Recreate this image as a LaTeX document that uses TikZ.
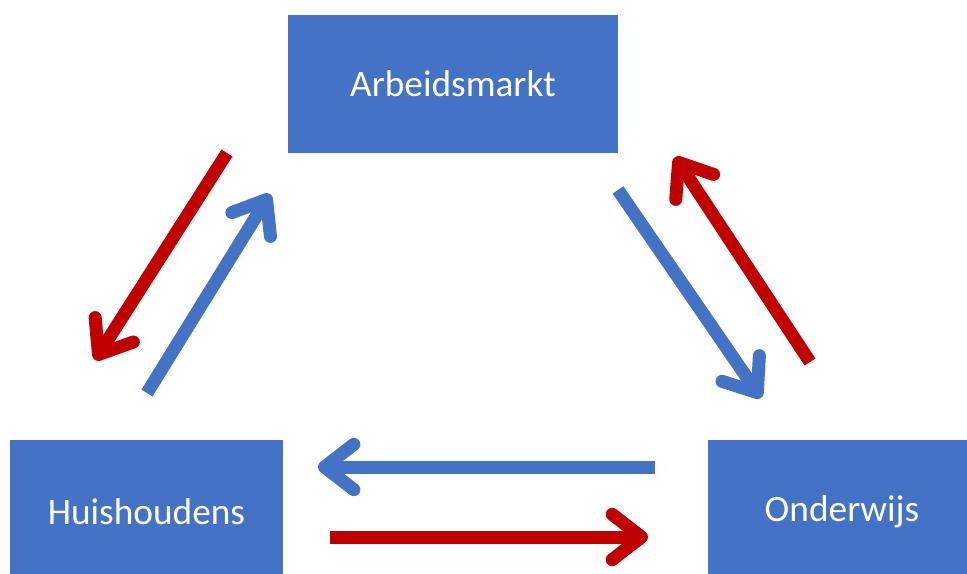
\documentclass[tikz,border=0pt]{standalone}
\usepackage{fontspec}
\setmainfont{Carlito}
\usetikzlibrary{arrows.meta}
\definecolor{boxblue}{HTML}{4472C4}
\definecolor{arrred}{HTML}{C00000}
\tikzset{
  box/.style={fill=boxblue, draw=none, text=white, font=\fontsize{28}{32}\selectfont, inner sep=0pt},
  flow/.style={line width=9.75pt, -{Straight Barb[round, length=22pt, width=34pt]}},
  blueflow/.style={flow, draw=boxblue},
  redflow/.style={flow, draw=arrred},
}
\begin{document}
\begin{tikzpicture}[x=0.75pt, y=-0.75pt]
\useasboundingbox (0,0) rectangle (967,574);
\clip (0,0) rectangle (967,574);
\fill[white] (0,0) rectangle (967,574);
\node[box, minimum width=247.5pt, minimum height=103.5pt] (arb) at (453,84) {Arbeidsmarkt};
\node[box, minimum width=204.75pt, minimum height=108pt] (hui) at (146.5,512) {Huishoudens};
\node[box, minimum width=201pt, minimum height=108pt] (ond) at (842,512) {Onderwijs};
% left pair
\coordinate (r1s) at (227,153); \coordinate (r1e) at (95,360);
\coordinate (b1s) at (147,393); \coordinate (b1e) at (270,194);
% right pair
\coordinate (b2s) at (618,190); \coordinate (b2e) at (761,398);
\coordinate (r2s) at (810,362); \coordinate (r2e) at (675,157);
% bottom pair
\coordinate (b3s) at (655,467); \coordinate (b3e) at (318,467);
\coordinate (r3s) at (330,537); \coordinate (r3e) at (648,537);
\draw[redflow] (r1s) -- (r1e);
\draw[blueflow] (b1s) -- (b1e);
\draw[blueflow] (b2s) -- (b2e);
\draw[redflow] (r2s) -- (r2e);
\draw[blueflow] (b3s) -- (b3e);
\draw[redflow] (r3s) -- (r3e);
\end{tikzpicture}
\end{document}
